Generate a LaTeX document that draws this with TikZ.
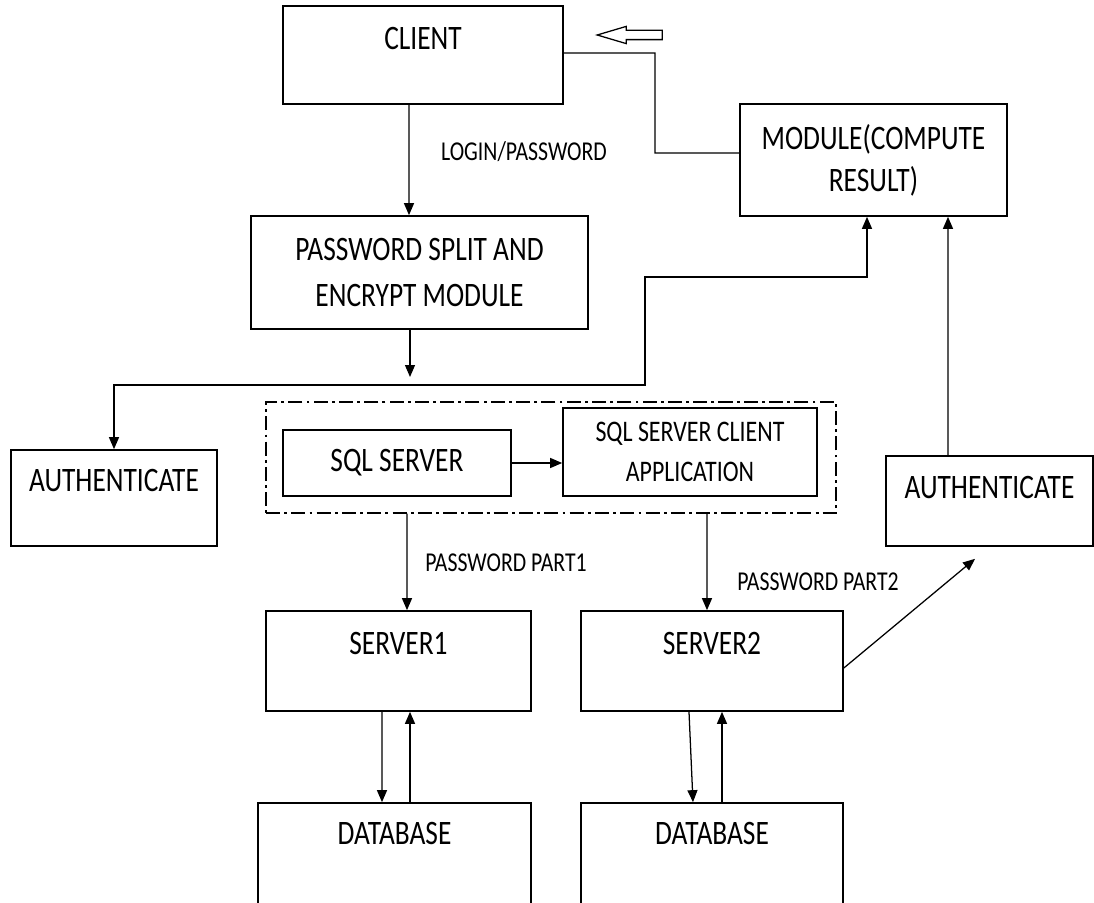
\documentclass[tikz,border=0pt]{standalone}
\usepackage{fontspec}
\usepackage{graphicx}
\setmainfont{Carlito}
\usetikzlibrary{arrows.meta, shapes.arrows}
\newcommand{\tallt}[1]{\scalebox{1}[1.25]{#1}}

\begin{document}
\begin{tikzpicture}[->, >={Triangle[length=0.3cm, width=0.25cm]}, line width=0.9pt]
    \tikzstyle{block}=[draw, rectangle, line width=1.2pt, align=center, inner sep=0pt, font=\fontsize{19.5}{23}\selectfont]
    \tikzstyle{annot}=[font=\fontsize{15.5}{18}\selectfont]
    \tikzstyle{group}=[draw, rectangle, line width=0.9pt, dash pattern=on 10pt off 3pt on 2pt off 3pt, inner sep=0pt]

    \clip (0,0) rectangle (27.35,-22.575);
    \fill[white] (0,0) rectangle (27.35,-22.575);

    \node[block, minimum width=7cm, minimum height=2.45cm] (client) at (10.575,-1.375) {\tallt{CLIENT}\\~};
    \node[block, minimum width=6.675cm, minimum height=2.8cm] (module) at (21.8375,-4) {\tallt{MODULE(COMPUTE}\\[7pt]\tallt{RESULT)}};
    \node[block, minimum width=8.425cm, minimum height=2.825cm] (split) at (10.4875,-6.8125) {\tallt{PASSWORD SPLIT AND}\\[10pt]\tallt{ENCRYPT MODULE}};
    \node[block, minimum width=5.15cm, minimum height=2.4cm] (auth1) at (2.85,-12.45) {\tallt{AUTHENTICATE}\\[2.6pt]~};
    \node[group, minimum width=14.25cm, minimum height=2.775cm] (sqlgroup) at (13.775,-11.4375) {};
    \node[block, minimum width=5.7cm, minimum height=1.65cm] (sqlsrv) at (9.925,-11.575) {\tallt{SQL SERVER}};
    \node[block, minimum width=6.35cm, minimum height=2.2cm, font=\fontsize{17}{20}\selectfont] (sqlcli) at (17.25,-11.3) {\tallt{SQL SERVER CLIENT}\\[8pt]\tallt{APPLICATION}};
    \node[block, minimum width=5.175cm, minimum height=2.25cm] (auth2) at (24.7375,-12.525) {\tallt{AUTHENTICATE}\\[-3pt]~};
    \node[block, minimum width=6.625cm, minimum height=2.5cm] (server1) at (9.9625,-16.525) {\tallt{SERVER1}\\[2.6pt]~};
    \node[block, minimum width=6.55cm, minimum height=2.5cm] (server2) at (17.8,-16.525) {\tallt{SERVER2}\\[2.6pt]~};
    \node[block, minimum width=6.825cm, minimum height=2.8cm] (db1) at (9.8625,-21.475) {\tallt{DATABASE}\\[14pt]~};
    \node[block, minimum width=6.55cm, minimum height=2.8cm] (db2) at (17.8,-21.475) {\tallt{DATABASE}\\[14pt]~};

    \node[draw, single arrow, shape border rotate=180, line width=0.9pt, minimum height=1.625cm, minimum width=0.4cm, inner sep=0.1cm, single arrow head extend=0.1cm, single arrow tip angle=33] (back) at (15.9375,-0.875) {};

    \node[annot] (login) at (13.1,-3.8) {\tallt{LOGIN/PASSWORD}};
    \node[annot] (part1) at (12.65,-14.075) {\tallt{PASSWORD PART1}};
    \node[annot] (part2) at (20.45,-14.55) {\tallt{PASSWORD PART2}};

    \draw ([xshift=-0.35cm]client.south) -- ([xshift=-0.2625cm]split.north);
    \coordinate (splitend) at (10.25,-9.425);
    \draw ([xshift=-0.2375cm]split.south) -- (splitend);
    \draw[<->] (auth1.north) -- (2.85,-9.625) -- (16.125,-9.625) -- (16.125,-6.925) -| ([xshift=-0.1625cm]module.south);
    \draw ([xshift=-1.0375cm]auth2.north) -- ([xshift=1.8625cm]module.south);
    \draw[-] ([yshift=0.175cm]module.west) -| (16.375,-1.325) -- ([yshift=0.05cm]client.east);

    \draw (sqlsrv.east) -- (sqlsrv.east -| sqlcli.west);
    \draw ([xshift=-3.6cm]sqlgroup.south) -- ([xshift=0.2125cm]server1.north);
    \draw ([xshift=3.9cm]sqlgroup.south) -- ([xshift=-0.125cm]server2.north);
    \draw ([yshift=-0.175cm]server2.east) -- ([xshift=-0.3625cm, yshift=-0.3cm]auth2.south);

    \draw ([xshift=-0.4125cm]server1.south) -- ([xshift=-0.3125cm]db1.north);
    \draw ([xshift=0.3875cm]db1.north) -- ([xshift=0.2875cm]server1.south);
    \draw ([xshift=-0.575cm]server2.south) -- ([xshift=-0.475cm]db2.north);
    \draw ([xshift=0.25cm]db2.north) -- ([xshift=0.25cm]server2.south);
\end{tikzpicture}
\end{document}
